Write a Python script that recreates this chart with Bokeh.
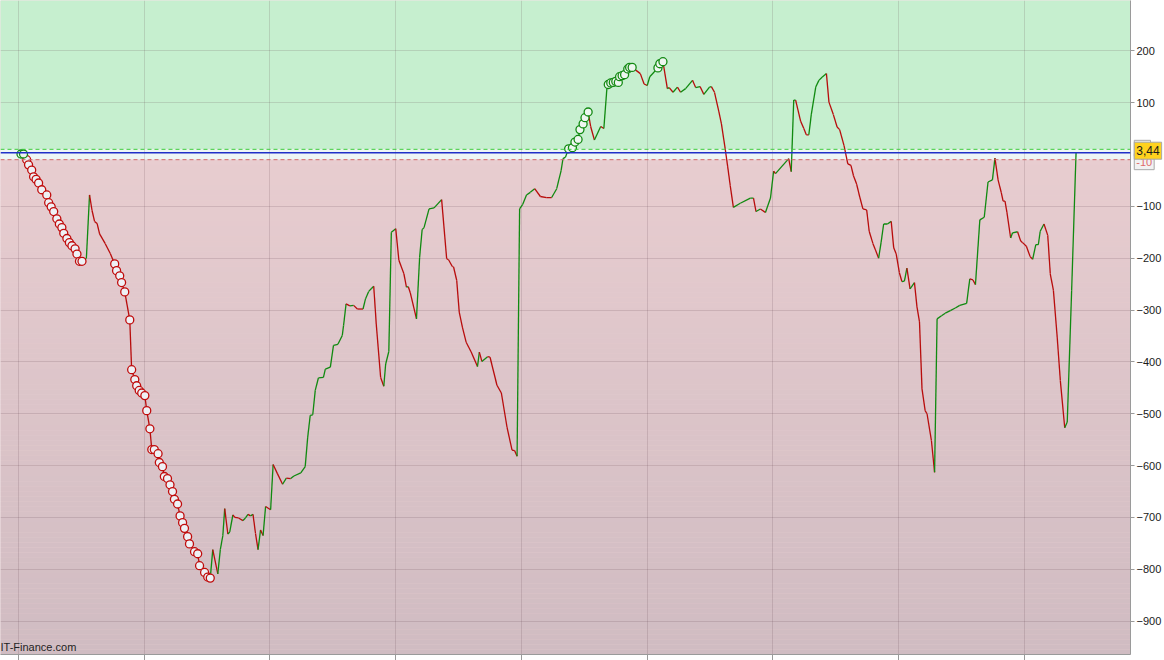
import numpy as np
from bokeh.plotting import figure
from bokeh.models import Range1d, FixedTicker, Span, Label
from bokeh.embed import file_html
from bokeh.resources import INLINE

# ---- data (period index, oscillator value) ----
period = [
    0.4, 0.8, 1.3, 1.6, 2.1, 2.4, 2.8, 3.2, 3.7, 4.5,
    4.8, 5.2, 5.6, 6.1, 6.5, 6.9, 7.2, 7.7, 8.1, 8.5,
    9.0, 9.3, 9.7, 10.1, 10.8, 11.3, 11.7, 12.1, 12.5, 12.9,
    13.8, 14.6, 15.3, 15.6, 16.1, 16.4, 16.9, 17.7, 18.0, 18.5,
    18.8, 19.2, 19.6, 20.1, 20.4, 20.9, 21.2, 21.6, 22.2, 22.4,
    22.9, 23.2, 23.7, 24.1, 24.5, 24.8, 25.3, 25.7, 26.1, 26.4,
    26.9, 27.2, 28.0, 28.5, 28.8, 29.6, 30.1, 30.5, 30.9, 31.7,
    32.1, 32.5, 32.8, 33.3, 33.6, 34.1, 34.4, 35.0, 35.7, 36.1,
    36.5, 36.9, 37.3, 37.7, 38.1, 38.5, 38.9, 39.3, 40.1, 40.5,
    41.2, 42.0, 42.6, 43.3, 43.8, 44.9, 45.6, 46.0, 46.4, 46.8,
    47.2, 47.7, 48.5, 48.8, 49.6, 50.1, 50.8, 51.5, 51.7, 52.1,
    52.7, 53.3, 53.9, 54.8, 55.2, 55.7, 56.1, 56.5, 56.9, 57.6,
    58.1, 58.4, 58.9, 59.3, 60.0, 60.5, 61.3, 61.7, 62.0, 62.3,
    63.3, 63.8, 64.2, 64.5, 65.3, 66.1, 67.3, 68.1, 68.4, 69.0,
    69.2, 69.7, 70.1, 70.6, 71.2, 72.0, 73.0, 73.3, 73.7, 74.6,
    75.0, 76.1, 76.8, 77.7, 78.5, 78.9, 79.3, 79.7, 80.2, 80.8,
    81.4, 82.1, 83.0, 84.0, 84.8, 85.6, 86.3, 86.6, 87.0, 87.5,
    88.1, 88.5, 89.0, 89.3, 89.8, 90.1, 90.6, 91.0, 91.6, 92.6,
    93.1, 93.6, 93.8, 94.2, 94.6, 95.0, 95.4, 95.6, 96.0, 96.4,
    96.9, 97.2, 97.6, 98.9, 99.5, 100.0, 100.4, 101.1, 101.7, 102.0,
    102.5, 103.2, 103.5, 104.1, 104.8, 105.3, 106.1, 107.2, 107.7, 108.4,
    109.0, 109.9, 110.2, 110.7, 111.4, 111.8, 112.4, 112.8, 113.2, 113.7,
    114.8, 116.4, 116.9, 117.3, 118.0, 118.8, 119.6, 120.1, 120.4, 122.5,
    122.9, 123.3, 123.6, 124.4, 124.9, 125.3, 125.7, 126.1, 126.8, 127.3,
    127.8, 128.5, 128.9, 129.6, 130.2, 130.6, 131.3, 131.9, 132.4, 132.8,
    133.3, 133.8, 134.3, 134.9, 135.3, 135.9, 136.3, 136.8, 137.2, 137.6,
    138.2, 138.8, 139.2, 139.6, 140.1, 140.5, 140.9, 141.3, 141.8, 142.5,
    142.9, 143.3, 143.7, 144.2, 144.5, 145.2, 145.7, 146.1, 146.8, 147.4,
    148.2, 149.0, 149.7, 150.8, 151.3, 151.8, 152.2, 152.9, 153.6, 154.2,
    154.9, 155.3, 155.8, 156.3, 156.6, 156.9, 157.2, 157.8, 158.1, 158.9,
    159.4, 159.7, 160.3, 160.9, 161.3, 161.8, 162.2, 162.5, 163.1, 163.7,
    164.1, 164.6, 165.2, 165.7, 166.4, 166.8, 167.5, 168.2,
]
value = [
    1, 1, -10, -20, -30, -43, -48, -55, -68, -78,
    -93, -101, -110, -124, -134, -141, -152, -162, -170, -176,
    -182, -192, -206, -206, -200, -78, -108, -129, -133, -153,
    -172, -191, -211, -224, -234, -247, -265, -319, -415, -434,
    -446, -455, -460, -465, -494, -529, -569, -569, -577, -594,
    -602, -621, -625, -637, -650, -665, -674, -697, -710, -721,
    -737, -751, -766, -770, -793, -806, -815, -817, -762, -809,
    -762, -735, -683, -732, -728, -695, -700, -701, -706, -701,
    -694, -697, -694, -731, -762, -724, -735, -679, -685, -598,
    -616, -636, -624, -625, -620, -614, -602, -545, -503, -502,
    -455, -431, -430, -414, -410, -368, -366, -349, -330, -288,
    -292, -291, -298, -298, -278, -264, -259, -254, -327, -430,
    -447, -404, -380, -150, -143, -204, -230, -256, -255, -266,
    -317, -198, -145, -141, -105, -103, -87, -201, -203, -216,
    -217, -243, -304, -333, -362, -381, -409, -381, -399, -390,
    -391, -445, -460, -526, -570, -571, -582, -105, -96, -78,
    -73, -66, -81, -83, -83, -66, -31, -8, -5, 11,
    13, 24, 29, 48, 59, 71, 82, 54, 28, 54,
    50, 130, 135, 138, 139, 141, 139, 150, 152, 154,
    165, 168, 168, 156, 136, 133, 150, 159, 167, 175,
    179, 127, 129, 120, 130, 120, 127, 143, 129, 131,
    116, 130, 131, 120, 82, 59, 11, -24, -60, -102,
    -94, -84, -84, -110, -105, -112, -84, -32, -37, -8,
    -33, 105, 105, 64, 50, 38, 38, 78, 130, 143,
    149, 156, 101, 77, 53, 48, 17, -18, -21, -41,
    -57, -82, -105, -107, -148, -172, -184, -200, -169, -134,
    -134, -129, -180, -192, -228, -245, -244, -219, -259, -247,
    -294, -323, -452, -494, -500, -552, -613, -317, -311, -306,
    -301, -296, -291, -287, -240, -242, -251, -126, -121, -53,
    -49, -7, -49, -73, -90, -90, -111, -161, -151, -149,
    -167, -170, -177, -197, -202, -174, -174, -148, -134, -156,
    -230, -262, -352, -436, -527, -516, -262, 3.44,
]
# index ranges (inclusive) of points carrying a signal marker
buy_signal_ranges = [(0, 1), (169, 176), (182, 192), (198, 200)]
sell_signal_ranges = [(2, 23), (32, 67)]

y_tick_values = [-900, -800, -700, -600, -500, -400, -300, -200, -100, 100, 200, 300]
x_grid_values = [0, 20, 40, 60, 80, 100, 120, 140, 160]
upper_band = 10
lower_band = -10
band_labels = ["10", "-10"]
watermark = "IT-Finance.com"

# ---- figure ----
FW, FH = 1130, 654
X0, X1 = -2.86, 176.86
Y0, Y1 = -964.3, 297.0
p = figure(frame_width=FW, frame_height=FH, output_backend="svg", toolbar_location=None,
           x_axis_location="below", y_axis_location="right",
           x_range=Range1d(X0, X1), y_range=Range1d(Y0, Y1),
           min_border_left=0, min_border_top=0, min_border_bottom=0, min_border_right=0)
p.outline_line_color = None
p.background_fill_color = "#e6cccf"
p.border_fill_color = "white"

# background zones
p.quad(left=X0 - 10, right=X1 + 10, bottom=upper_band, top=Y1 + 100,
       fill_color="#c6efcf", line_color=None, level="image")
p.quad(left=X0 - 10, right=X1 + 10, bottom=lower_band, top=upper_band,
       fill_color="#eef6f5", line_color=None, level="image")
edges = np.linspace(lower_band, Y0 - 20, 100)
c_top = np.array([232, 205, 208])
c_bot = np.array([208, 188, 194])
cols = []
for i in range(len(edges) - 1):
    f = i / (len(edges) - 2)
    c = (c_top * (1 - f) + c_bot * f).astype(int)
    cols.append("#%02x%02x%02x" % tuple(c))
p.quad(left=X0 - 10, right=X1 + 10, top=edges[:-1], bottom=edges[1:],
       fill_color=cols, line_color=None, level="image")

# grids
p.ygrid.ticker = FixedTicker(ticks=y_tick_values)
p.ygrid.grid_line_color = "#5a3a44"
p.ygrid.grid_line_alpha = 0.16
p.xgrid.ticker = FixedTicker(ticks=x_grid_values)
p.xgrid.grid_line_color = "#5a3a44"
p.xgrid.grid_line_alpha = 0.16

# right axis
ax = p.yaxis[0]
ax.ticker = FixedTicker(ticks=y_tick_values)
ax.major_label_text_font = "Liberation Sans"
ax.major_label_text_font_size = "11px"
ax.major_label_text_color = "#1a1a1a"
ax.axis_line_color = "#9a9a9a"
ax.major_tick_line_color = "#9a9a9a"
ax.major_tick_out = 4
ax.major_tick_in = 0
ax.minor_tick_line_color = None
ax.major_label_standoff = 2

# bottom axis: only tick marks are inside the window (labels fall below it)
bx_ = p.xaxis[0]
bx_.ticker = FixedTicker(ticks=[], minor_ticks=x_grid_values)
bx_.major_label_standoff = 0
bx_.major_tick_out = 6
bx_.major_tick_in = 0
bx_.minor_tick_out = 6
bx_.minor_tick_in = 0
bx_.axis_line_color = "#9a9a9a"
bx_.major_tick_line_color = "#9a9a9a"
bx_.minor_tick_line_color = "#9a9a9a"

# band lines
p.add_layout(Span(location=upper_band, dimension="width", line_color="#3ccf3c",
                  line_dash="4 3", line_width=1))
p.add_layout(Span(location=lower_band, dimension="width", line_color="#d46a6a",
                  line_dash="4 3", line_width=1))
p.add_layout(Span(location=value[-1], dimension="width", line_color="#2030c8",
                  line_width=1.5))

# coloured line: green when rising, red when falling
seg_colors = []
prev = "#108a10"
for a, b in zip(value[:-1], value[1:]):
    if b > a:
        prev = "#108a10"
    elif b < a:
        prev = "#b80c0c"
    seg_colors.append(prev)
p.segment(x0=period[:-1], y0=value[:-1], x1=period[1:], y1=value[1:],
          line_color=seg_colors, line_width=1.3)

# signal markers
def pick(ranges):
    idx = [i for a, b in ranges for i in range(a, b + 1)]
    return [period[i] for i in idx], [value[i] for i in idx]

bx, by = pick(buy_signal_ranges)
sx, sy = pick(sell_signal_ranges)
p.scatter(sx, sy, size=8, fill_color="#eef1f5", line_color="#c00c0c", line_width=1.3)
p.scatter(bx, by, size=8, fill_color="#eef6f0", line_color="#138a13", line_width=1.3)

# value labels on the right (placed in the right side panel so they are not clipped)
lx = X1 + 0.6
p.add_layout(Label(x=lx, y=upper_band, text=band_labels[0], text_font="Liberation Sans",
                   text_font_size="11px", text_color="#3a9a3a", text_baseline="middle",
                   text_align="left", background_fill_color="#f2f4f2",
                   border_line_color="#a8a8a8", padding=dict(x=2, y=4), y_offset=1), "right")
p.add_layout(Label(x=lx, y=lower_band, text=band_labels[1], text_font="Liberation Sans",
                   text_font_size="11px", text_color="#e06a6a", text_baseline="middle",
                   text_align="left", background_fill_color="#f2f2f2",
                   border_line_color="#a8a8a8", padding=dict(x=2, y=4), y_offset=-2), "right")
p.add_layout(Label(x=lx, y=value[-1], text=("%.2f" % value[-1]).replace(".", ","),
                   text_font="Liberation Sans", text_font_size="12px", text_color="#1a1a1a",
                   text_baseline="middle", text_align="left", y_offset=2,
                   background_fill_color="#ffd21f", border_line_color="#a8a8a8",
                   padding=dict(x=2, y=4)), "right")

# watermark
p.add_layout(Label(x=X0, y=Y0, y_offset=2, text=watermark, text_font="Liberation Sans",
                   text_font_size="11px", text_color="#1f1f1f", text_baseline="bottom",
                   text_align="left"))

open("out.html", "w").write(file_html(p, INLINE))
